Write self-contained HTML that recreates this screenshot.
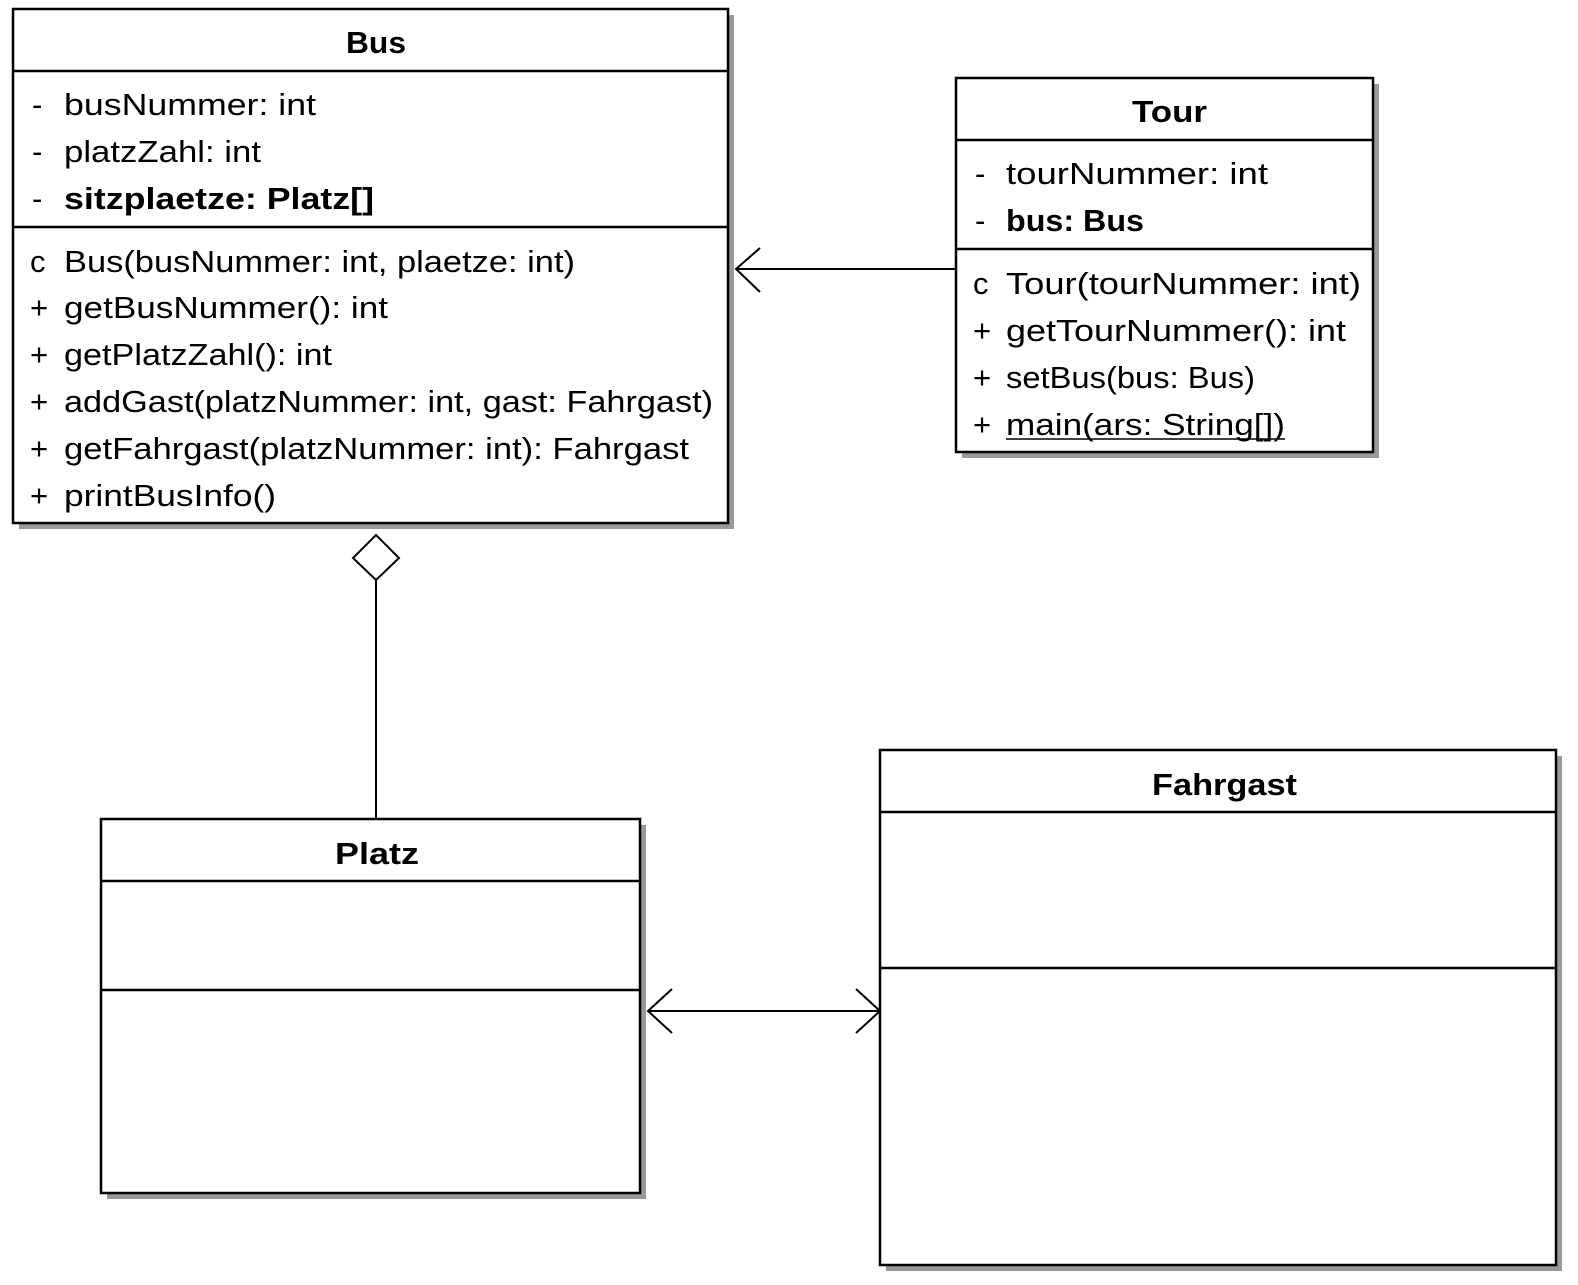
<!DOCTYPE html>
<html><head><meta charset="utf-8"><style>
html,body{margin:0;padding:0;background:#fff;width:1578px;height:1285px;overflow:hidden}
text{font-family:"Liberation Sans",sans-serif;font-size:31px;fill:#000}
.b{font-weight:bold}
</style></head><body>
<svg width="1578" height="1285" viewBox="0 0 1578 1285" xmlns="http://www.w3.org/2000/svg">
<g fill="#555" opacity="0.6">
<rect x="19" y="15" width="715" height="514"/>
<rect x="962" y="84" width="417" height="374"/>
<rect x="107" y="825" width="539" height="374"/>
<rect x="886" y="756" width="676" height="515"/>
</g>
<g fill="#fff" stroke="#000" stroke-width="2.5">
<rect x="13" y="9" width="715" height="514"/>
<rect x="956" y="78" width="417" height="374"/>
<rect x="101" y="819" width="539" height="374"/>
<rect x="880" y="750" width="676" height="515"/>
</g>
<g stroke="#000" stroke-width="2.5">
<line x1="13" y1="71" x2="728" y2="71"/><line x1="13" y1="227" x2="728" y2="227"/>
<line x1="956" y1="140" x2="1373" y2="140"/><line x1="956" y1="249" x2="1373" y2="249"/>
<line x1="101" y1="881" x2="640" y2="881"/><line x1="101" y1="990" x2="640" y2="990"/>
<line x1="880" y1="812" x2="1556" y2="812"/><line x1="880" y1="968" x2="1556" y2="968"/>
</g>
<g stroke="#000" stroke-width="2" fill="none">
<line x1="956" y1="269" x2="736" y2="269"/>
<polyline points="760,248 736,269 760,292"/>
<polygon points="376,535 399,558 376,580 353,558" fill="#fff"/>
<line x1="376" y1="580" x2="376" y2="819"/>
<line x1="648" y1="1011" x2="880" y2="1011"/>
<polyline points="672,989 648,1011 672,1033"/>
<polyline points="856,989 880,1011 856,1033"/>
</g>
<text class="b" x="346" y="53" textLength="60" lengthAdjust="spacingAndGlyphs">Bus</text>
<text class="b" x="1132" y="122" textLength="75" lengthAdjust="spacingAndGlyphs">Tour</text>
<text class="b" x="335" y="864" textLength="84" lengthAdjust="spacingAndGlyphs">Platz</text>
<text class="b" x="1152" y="795" textLength="145" lengthAdjust="spacingAndGlyphs">Fahrgast</text>
<g>
<text x="32" y="115">-</text><text x="64" y="115" textLength="252" lengthAdjust="spacingAndGlyphs">busNummer: int</text>
<text x="32" y="162">-</text><text x="64" y="162" textLength="197" lengthAdjust="spacingAndGlyphs">platzZahl: int</text>
<text x="32" y="209">-</text><text class="b" x="64" y="209" textLength="310" lengthAdjust="spacingAndGlyphs">sitzplaetze: Platz[]</text>
<text x="30" y="272">c</text><text x="64" y="272" textLength="511" lengthAdjust="spacingAndGlyphs">Bus(busNummer: int, plaetze: int)</text>
<text x="30" y="318">+</text><text x="64" y="318" textLength="324" lengthAdjust="spacingAndGlyphs">getBusNummer(): int</text>
<text x="30" y="365">+</text><text x="64" y="365" textLength="268" lengthAdjust="spacingAndGlyphs">getPlatzZahl(): int</text>
<text x="30" y="412">+</text><text x="64" y="412" textLength="649" lengthAdjust="spacingAndGlyphs">addGast(platzNummer: int, gast: Fahrgast)</text>
<text x="30" y="459">+</text><text x="64" y="459" textLength="625" lengthAdjust="spacingAndGlyphs">getFahrgast(platzNummer: int): Fahrgast</text>
<text x="30" y="506">+</text><text x="64" y="506" textLength="212" lengthAdjust="spacingAndGlyphs">printBusInfo()</text>

<text x="975" y="184">-</text><text x="1006" y="184" textLength="262" lengthAdjust="spacingAndGlyphs">tourNummer: int</text>
<text x="975" y="231">-</text><text class="b" x="1006" y="231" textLength="138" lengthAdjust="spacingAndGlyphs">bus: Bus</text>
<text x="973" y="294">c</text><text x="1006" y="294" textLength="355" lengthAdjust="spacingAndGlyphs">Tour(tourNummer: int)</text>
<text x="973" y="341">+</text><text x="1006" y="341" textLength="340" lengthAdjust="spacingAndGlyphs">getTourNummer(): int</text>
<text x="973" y="388">+</text><text x="1006" y="388" textLength="249" lengthAdjust="spacingAndGlyphs">setBus(bus: Bus)</text>
<text x="973" y="435">+</text><text x="1006" y="435" textLength="279" lengthAdjust="spacingAndGlyphs">main(ars: String[])</text>
</g>
<line x1="1006" y1="439" x2="1285" y2="439" stroke="#000" stroke-width="1.5"/>
</svg>
</body></html>
